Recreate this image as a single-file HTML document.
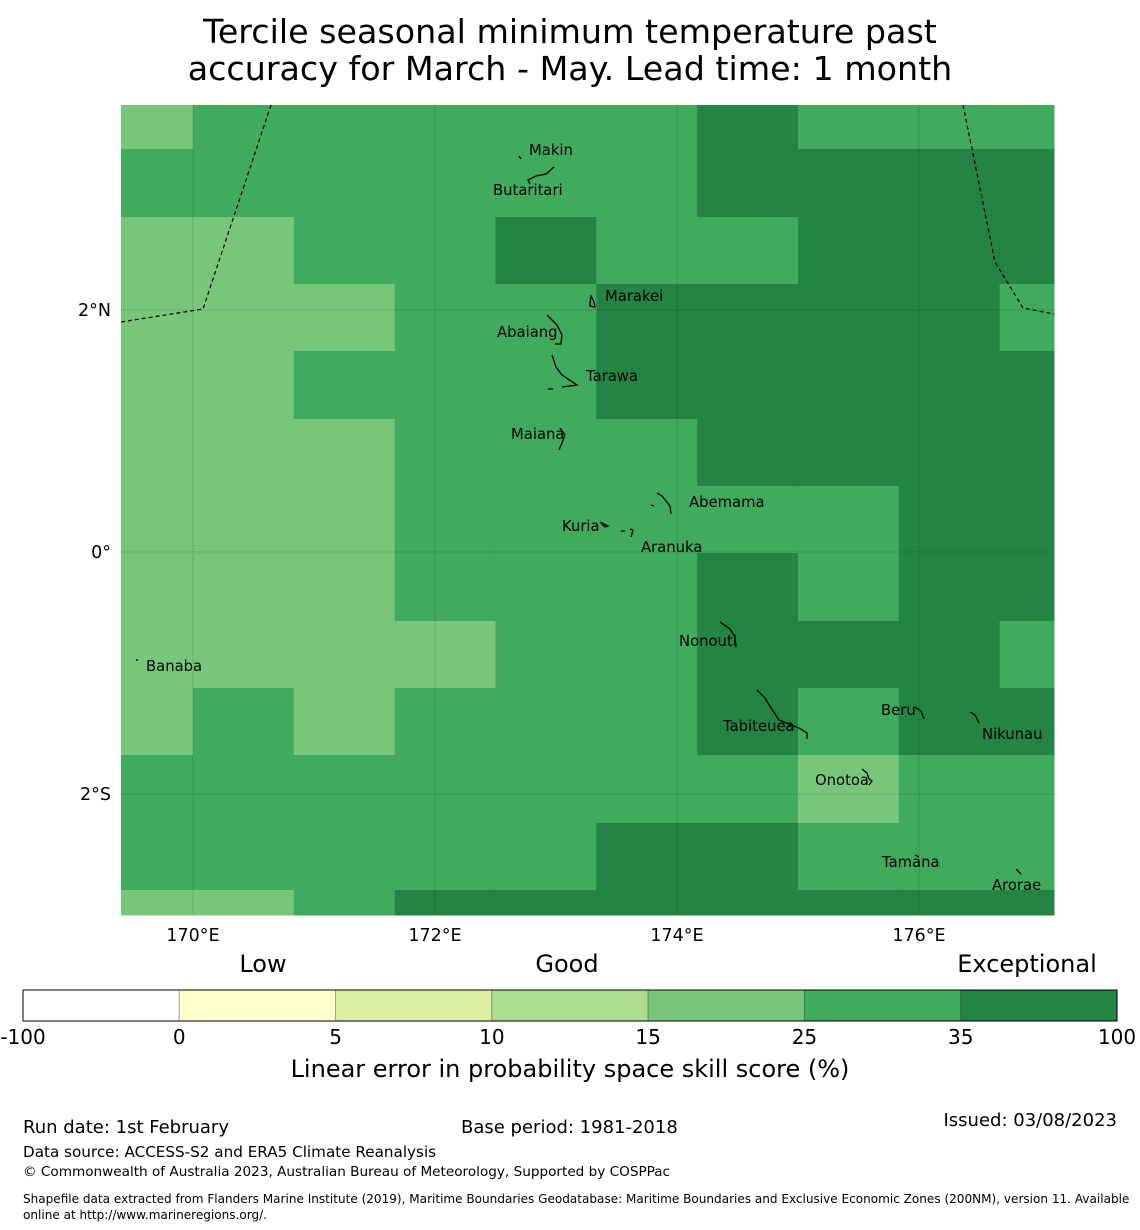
<!DOCTYPE html>
<html><head><meta charset="utf-8">
<style>
body{margin:0;background:#fff;width:1140px;height:1230px;overflow:hidden;font-family:"DejaVu Sans","Liberation Sans",sans-serif;}
svg{position:absolute;left:0;top:0}
</style></head>
<body>
<svg id="chart" width="1140" height="1230" font-family="DejaVu Sans, Liberation Sans, sans-serif">
<text x="570" y="43" text-anchor="middle" font-size="33.3">Tercile seasonal minimum temperature past</text>
<text x="570" y="80" text-anchor="middle" font-size="33.3">accuracy for March - May. Lead time: 1 month</text>
<g id="cells"></g>
<g id="grid"></g>
<g id="bounds" fill="none" stroke="#000" stroke-width="1.2" stroke-dasharray="4,3">
<polyline points="121,322 203,309 271,105"/>
<polyline points="963,105 995,262 1023,308 1054,314"/>
</g>
<g id="islands" fill="none" stroke="#000" stroke-width="1.3">
<path d="M519,156 l2,3"/>
<path d="M554,167 l-8,7 l-10,2 l-8,4 l2,4"/>
<path d="M590,303 l1,-7 l3,6 l1,5 l-5,-1z"/>
<path d="M547,315 l10,10 l5,10 l-1,9 l-6,0"/>
<path d="M552,355 l4,12 l6,8 l15,10 l-15,2 M548,389 l5,0"/>
<path d="M560,428 l5,7 l-3,8 l-3,7"/>
<path d="M657,493 l5,3 l8,10 l1,8 M651,505 l3,1"/>
<path d="M600,522 l5,5 l3,-1z M621,531 l4,0 M630,529 l3,1 l-2,7"/>
<path d="M720,622 l10,7 l5,8 l1,10"/>
<path d="M757,690 l8,8 l6,10 l8,12 l12,5 l8,3 l8,5 l0,6"/>
<path d="M915,707 l6,4 l3,8"/>
<path d="M970,712 l5,3 l4,8"/>
<path d="M862,769 l5,4 l2,6 l3,2 l-3,4"/>
<path d="M915,855 l4,2"/>
<path d="M1016,869 l5,5"/>
<path d="M136,660 l2,0"/>
</g>
<g font-size="14.8">
<text x="529" y="155">Makin</text>
<text x="493" y="195">Butaritari</text>
<text x="605" y="301">Marakei</text>
<text x="497" y="337">Abaiang</text>
<text x="586" y="381">Tarawa</text>
<text x="511" y="439">Maiana</text>
<text x="689" y="507">Abemama</text>
<text x="562" y="531">Kuria</text>
<text x="641" y="552">Aranuka</text>
<text x="679" y="646">Nonouti</text>
<text x="146" y="671">Banaba</text>
<text x="723" y="731">Tabiteuea</text>
<text x="881" y="715">Beru</text>
<text x="982" y="739">Nikunau</text>
<text x="815" y="785">Onotoa</text>
<text x="882" y="867">Tamana</text>
<text x="992" y="890">Arorae</text>
</g>
<g id="axes" font-size="17.5"></g>
<g font-size="24" text-anchor="middle">
<text x="263" y="972">Low</text>
<text x="567" y="972">Good</text>
<text x="1027" y="972">Exceptional</text>
</g>
<g id="cbar"></g>
<text x="570" y="1077" text-anchor="middle" font-size="24">Linear error in probability space skill score (%)</text>
<g font-size="18">
<text x="23" y="1133">Run date: 1st February</text>
<text x="461" y="1133">Base period: 1981-2018</text>
<text x="1117" y="1126" text-anchor="end">Issued: 03/08/2023</text>
<text x="23" y="1157" font-size="15.2">Data source: ACCESS-S2 and ERA5 Climate Reanalysis</text>
<text x="23" y="1176" font-size="13.6">© Commonwealth of Australia 2023, Australian Bureau of Meteorology, Supported by COSPPac</text>
<text x="23" y="1203" font-size="12.05">Shapefile data extracted from Flanders Marine Institute (2019), Maritime Boundaries Geodatabase: Maritime Boundaries and Exclusive Economic Zones (200NM), version 11. Available</text>
<text x="23" y="1219" font-size="12.05">online at http://www.marineregions.org/.</text>
</g>
</svg>
<script>
// skill categories per row (top to bottom), per column (west to east): 0=15-25,1=25-35,2=35-100
const rowsData = [
 [0,1,1,1,1,1,2,1,1,1],
 [1,1,1,1,1,1,2,2,2,2],
 [0,0,1,1,2,1,1,2,2,2],
 [0,0,0,1,1,2,2,2,2,1],
 [0,0,1,1,1,2,2,2,2,2],
 [0,0,0,1,1,1,2,2,2,2],
 [0,0,0,1,1,1,1,1,2,2],
 [0,0,0,1,1,1,2,1,2,2],
 [0,0,0,0,1,1,2,2,2,1],
 [0,1,0,1,1,1,2,1,2,2],
 [1,1,1,1,1,1,1,0,1,1],
 [1,1,1,1,1,2,2,1,1,1],
 [0,0,1,2,2,2,2,2,2,2]
];
const lonTicks = [170,172,174,176];
const latTicks = [2,0,-2];
const lonLabels = ["170°E","172°E","174°E","176°E"];
const latLabels = ["2°N","0°","2°S"];
const cbarBounds = ["-100","0","5","10","15","25","35","100"];
const cbarColors = ["#ffffff","#ffffcc","#d9f0a3","#addd8e","#78c679","#41ab5d","#238443"];
const cellColors = ["#78c679","#41ab5d","#238443"];

const NS="http://www.w3.org/2000/svg";
const X0=121,X1=1054,Y0=105,Y1=915;
const lonX = lon => 193 + (lon-170)*121;
const latY = lat => 552 - lat*121;
const cellW = 0.8333;
const colEdge = i => lonX(170 + (i-1)*cellW);
function mk(tag,attrs,parent){const e=document.createElementNS(NS,tag);for(const k in attrs)e.setAttribute(k,attrs[k]);parent.appendChild(e);return e;}
const cells=document.getElementById('cells');
const rowTop=[105,149,217,284,351,419,486,553,621,688,755,823,890,915];
const rowLat = rowTop.map(y => (552-y)/121);
rowsData.forEach((row,j)=>{
  row.forEach((v,i)=>{
    const x0=Math.max(X0,colEdge(i)), x1=Math.min(X1,colEdge(i+1));
    const y0=latY(rowLat[j]), y1=latY(rowLat[j+1]);
    const r=mk('rect',{x:x0,y:y0,width:x1-x0+0.5,height:y1-y0+0.5,fill:cellColors[v]},cells);
    
    
  });
});
const grid=document.getElementById('grid'), axes=document.getElementById('axes');
lonTicks.forEach((lon,k)=>{
  const x=lonX(lon);
  const l=mk('line',{x1:x,y1:Y0,x2:x,y2:Y1,stroke:'rgba(0,0,0,0.3)','stroke-width':0.8,'stroke-dasharray':'1,1'},grid);
  
  
  const t=mk('text',{x:x,y:941,'text-anchor':'middle'},axes);t.textContent=lonLabels[k];
  
  
});
latTicks.forEach((lat,k)=>{
  const y=latY(lat);
  const l=mk('line',{x1:X0,y1:y,x2:X1,y2:y,stroke:'rgba(0,0,0,0.3)','stroke-width':0.8,'stroke-dasharray':'1,1'},grid);
  
  
  const t=mk('text',{x:111,y:y+6,'text-anchor':'end'},axes);t.textContent=latLabels[k];
  
  
});
const cbar=document.getElementById('cbar');
const CX0=23,CX1=1117,CY=990,CH=31,sw=(CX1-CX0)/cbarColors.length;
cbarColors.forEach((c,i)=>{
  const r=mk('rect',{x:CX0+i*sw,y:CY,width:sw,height:CH,fill:c,stroke:'rgba(0,0,0,0.25)','stroke-width':1},cbar);
  
  
});
mk('rect',{x:CX0,y:CY,width:CX1-CX0,height:CH,fill:'none',stroke:'#000','stroke-width':1},cbar);
cbarBounds.forEach((b,i)=>{
  const t=mk('text',{x:CX0+i*sw,y:1044,'text-anchor':'middle','font-size':20},cbar);t.textContent=b;
  
  
});
</script>
</body></html>
